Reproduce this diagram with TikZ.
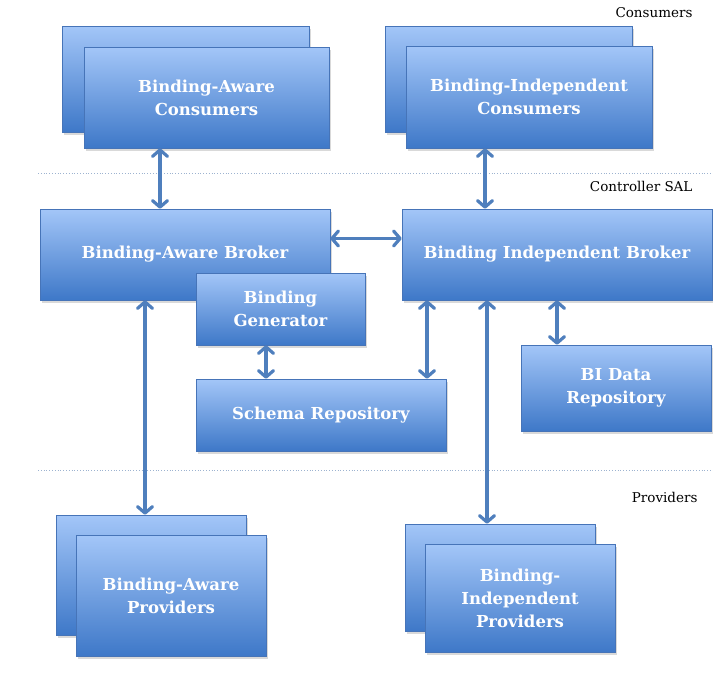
\documentclass[tikz,border=0pt]{standalone}
\usepackage{fontspec}
\setmainfont{DejaVu Serif}
\usepackage{tikz}
\usetikzlibrary{arrows.meta, shadows}

\definecolor{boxtop}{HTML}{A3C6F8}
\definecolor{boxbot}{HTML}{3E78C8}
\definecolor{boxline}{HTML}{4674B8}
\definecolor{linkcol}{HTML}{4F7FBD}
\definecolor{sepcol}{HTML}{9DB3D0}

\begin{document}
\begin{tikzpicture}[x=1pt, y=-1pt,
        blk/.style={draw=boxline, line width=0.6pt, top color=boxtop, bottom color=boxbot,
            text=white, align=center, inner sep=2pt,
            font=\bfseries\fontsize{16.5}{23}\selectfont,
            drop shadow={shadow xshift=2pt, shadow yshift=-3pt, opacity=0.3}},
        link/.style={{Straight Barb[length=6.5pt,width=15pt,line cap=round,line join=round]}-{Straight Barb[length=6.5pt,width=15pt,line cap=round,line join=round]},
            line width=3.2pt, draw=linkcol, line cap=round},
        sep/.style={sepcol, dotted, line width=0.8pt},
        layer/.style={font=\fontsize{13.5}{15}\selectfont, anchor=east}]
            \useasboundingbox (0,0) rectangle (713,699);
            % layers
            \draw[sep] (38,173) -- (713,173);
            \draw[sep] (38,470) -- (713,470);
            \node[layer] (lcons) at (696,13) {Consumers};
            \node[layer] (lsal) at (696,186) {Controller SAL};
            \node[layer] (lprov) at (701,497) {Providers};
            % consumers
            \node[blk, minimum width=247, minimum height=106] (bacback) at (185.5,79) {};
            \node[blk, minimum width=245, minimum height=101] (bacons) at (206.5,97.5) {Binding-Aware\\Consumers};
            \node[blk, minimum width=247, minimum height=106] (bicback) at (508.5,79) {};
            \node[blk, minimum width=246, minimum height=102] (bicons) at (529,97) {Binding-Independent\\Consumers};
            % controller SAL
            \node[blk, minimum width=290, minimum height=91] (babrk) at (185,254.5) {Binding-Aware Broker};
            \node[blk, minimum width=310, minimum height=91] (bibrk) at (557,254.5) {Binding Independent Broker};
            \node[blk, minimum width=169, minimum height=72] (bgen) at (280.5,309) {Binding\\Generator};
            \node[blk, minimum width=250, minimum height=72] (schema) at (321,415) {Schema Repository};
            \node[blk, minimum width=190, minimum height=86] (bidata) at (616,388) {BI Data\\Repository};
            % providers
            \node[blk, minimum width=190, minimum height=120] (bapback) at (151,575) {};
            \node[blk, minimum width=190, minimum height=121] (baprov) at (171,595.5) {Binding-Aware\\Providers};
            \node[blk, minimum width=190, minimum height=107] (bipback) at (500,577.5) {};
            \node[blk, minimum width=190, minimum height=108] (biprov) at (520,598) {Binding-\\Independent\\Providers};
            % links
            \draw[link] ([xshift=-46.5pt]bacons.south) -- ([xshift=-46.5pt]bacons.south |- babrk.north);
            \draw[link] ([xshift=-44pt]bicons.south) -- ([xshift=-44pt]bicons.south |- bibrk.north);
            \draw[link] ([yshift=16pt]babrk.east) -- ([yshift=16pt]babrk.east -| bibrk.west);
            \draw[link] ([xshift=-14.5pt]bgen.south) -- ([xshift=-14.5pt]bgen.south |- schema.north);
            \draw[link] ([xshift=-130pt]bibrk.south) -- ([xshift=-130pt]bibrk.south |- schema.north);
            \draw[link] ([xshift=-70pt]bibrk.south) -- ([xshift=-70pt]bibrk.south |- bipback.north);
            \draw[link] (bibrk.south) -- (bibrk.south |- bidata.north);
            \draw[link] ([xshift=-40pt]babrk.south) -- ([xshift=-40pt]babrk.south |- bapback.north);
        \end{tikzpicture}
\end{document}
